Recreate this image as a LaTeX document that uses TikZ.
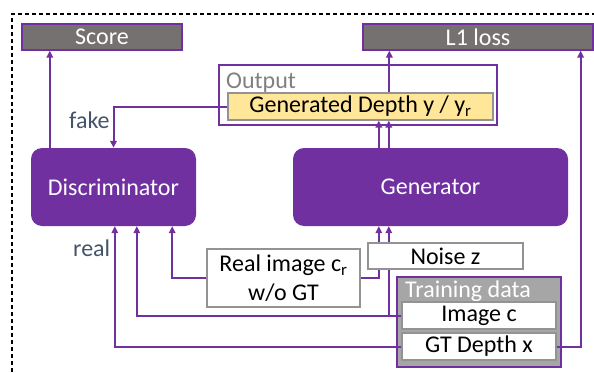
\documentclass[tikz,border=0pt]{standalone}
\usepackage{fontspec}
\setmainfont{Carlito}
\usepackage{tikz}
\usetikzlibrary{arrows.meta, calc, positioning}

\definecolor{gpurple}{HTML}{7030A0}
\definecolor{gdark}{HTML}{767171}
\definecolor{glight}{HTML}{A6A6A6}
\definecolor{gyellow}{HTML}{FFE699}
\definecolor{gslate}{HTML}{44546A}

\begin{document}
\begin{tikzpicture}[
      x=1pt, y=-1pt,
      every node/.style={font=\fontsize{24}{29}\selectfont, inner sep=0pt},
      net/.style={fill=gpurple, text=white, rounded corners=11pt},
      result/.style={draw=gpurple, line width=1.3pt, fill=gdark, text=white},
      group/.style={draw=gpurple, line width=1.2pt},
      item/.style={draw=gray!85, line width=1.3pt, fill=white, align=center},
      tag/.style={text=gslate},
      arr/.style={-{Triangle[length=7pt, width=6.5pt]}, gpurple, line width=2pt}
    ]
      \useasboundingbox (0,0) rectangle (594,372);
      \clip (0,0) rectangle (594,372);

% Dashed frame
      \draw[dash pattern=on 4pt off 3pt, line width=1.1pt] (12,400) -- (12,14) -- (620,14);

% Results
      \node[result, minimum width=160pt, minimum height=26pt] (score) at (102,37) {Score};
      \node[result, minimum width=230pt, minimum height=26pt] (loss) at (478,37) {L1 loss};

% Output
      \node[group, fill=white, minimum width=278pt, minimum height=60pt] (output) at (358,95) {};
      \node[text=gray, anchor=base west] (outlab) at (226,88) {Output};
      \node[item, fill=gyellow, minimum width=265pt, minimum height=27pt] (gendepth) at (360.5,106.5) {Generated Depth y / y\textsubscript{r}};

% Networks
      \node[net, minimum width=165pt, minimum height=78pt] (disc) at (113.5,187) {Discriminator};
      \node[net, minimum width=275pt, minimum height=78pt] (gen) at (430.5,187) {Generator};

% Inputs
      \node[item, minimum width=153pt, minimum height=58pt] (realimg) at (283.5,278) {Real image c\textsubscript{r}\\w/o GT};
      \node[group, fill=glight, minimum width=164pt, minimum height=90pt] (train) at (479,322) {};
      \node[text=white, anchor=base west] (trainlab) at (405,297) {Training data};
      \node[item, minimum width=154pt, minimum height=27pt] (imgc) at (479,315.5) {Image c};
      \node[item, minimum width=154pt, minimum height=27pt] (gtdepth) at (479,346.5) {GT Depth x};

% Arrows
      \draw[arr] ([xshift=19pt]disc.north west) -- ([xshift=19pt]disc.north west |- score.south);
      \draw[arr] (gendepth.west) -| (disc.north);
      \draw[arr] ([xshift=162pt]gendepth.north west) -- ([xshift=162pt]gendepth.north west |- loss.south);

      \draw[arr] ([xshift=86pt]gen.north west) -- ([xshift=86pt]gen.north west |- gendepth.south);
      \draw[arr] ([xshift=96pt]gen.north west) -- ([xshift=96pt]gen.north west |- gendepth.south);

      \draw[arr] (realimg.west) -| ([xshift=-24pt]disc.south east);
      \draw[arr] (realimg.east) -| ([xshift=86pt]gen.south west);
      \draw[arr] (imgc.west) -| ([xshift=106pt]disc.south west);
      \draw[arr] (imgc.west) -| ([xshift=96pt]gen.south west);
      \draw[arr] (gtdepth.west) -| ([xshift=84pt]disc.south west);
      \draw[arr] (gtdepth.east) -| ([xshift=-13pt]loss.south east);

% Labels
      \node[tag, anchor=base west] (fake) at (69,128) {fake};
      \node[tag, anchor=base west] (real) at (73,256) {real};

% Noise on top of the generator inputs
      \node[item, minimum width=155pt, minimum height=26pt] (noise) at (445.5,256) {Noise z};
\end{tikzpicture}
\end{document}
